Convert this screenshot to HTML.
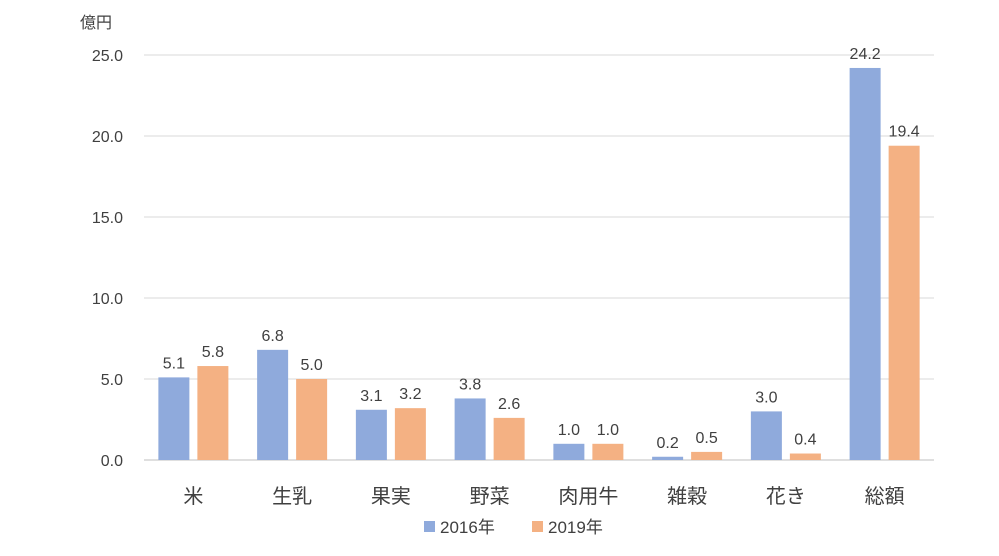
<!DOCTYPE html>
<html><head><meta charset="utf-8"><style>
body{margin:0;background:#fff;}
svg text{font-family:"Liberation Sans","Noto Sans CJK JP",sans-serif;fill:#404040;}
</style></head><body>
<svg width="999" height="551">
<g id="grid"></g><g id="bars"></g><g id="labels"></g>
<text x="80" y="28" font-size="16">億円</text>
<g>
<rect x="424" y="521" width="11" height="11" fill="#8faadc"/>
<text x="440" y="533" font-size="17">2016年</text>
<rect x="532" y="521" width="11" height="11" fill="#f4b183"/>
<text x="548" y="533" font-size="17">2019年</text>
</g>
</svg>
<script>
const categories=["米","生乳","果実","野菜","肉用牛","雑穀","花き","総額"];
const values2016=[5.1,6.8,3.1,3.8,1.0,0.2,3.0,24.2];
const values2019=[5.8,5.0,3.2,2.6,1.0,0.5,0.4,19.4];
const yTicks=[0,5,10,15,20,25];
const NS="http://www.w3.org/2000/svg";
const x0=144,x1=934,yBase=460,yTop=55,yMax=25;
const step=(x1-x0)/categories.length;
function y(v){return yBase-(v/yMax)*(yBase-yTop);}
function cx(i){return x0+step*(i+0.5);}
function mk(tag,attrs,parent){const e=document.createElementNS(NS,tag);for(const k in attrs)e.setAttribute(k,attrs[k]);document.getElementById(parent).appendChild(e);return e;}
yTicks.forEach(t=>{
 const l=mk("line",{x1:x0,x2:x1,y1:y(t),y2:y(t),stroke:t===0?"#bfbfbf":"#d9d9d9","stroke-width":1},"grid");
 
 
 const tx=mk("text",{x:123,y:y(t)+6,"font-size":16,"text-anchor":"end"},"grid");
 tx.textContent=t.toFixed(1);
 
 
});
categories.forEach((c,i)=>{
 const c0=cx(i);
 [[values2016[i],c0-35,"#8faadc","2016"],[values2019[i],c0+4,"#f4b183","2019"]].forEach(([v,bx,col,yr])=>{
  const r=mk("rect",{x:bx,y:y(v),width:31,height:yBase-y(v),fill:col},"bars");
  
  
  const t=mk("text",{x:bx+15.5,y:y(v)-9,"font-size":16,"text-anchor":"middle"},"labels");
  t.textContent=v.toFixed(1);
  
  
 });
 const xl=mk("text",{x:c0,y:503,"font-size":20,"text-anchor":"middle"},"labels");
 xl.textContent=c;
 
 
});
</script>
</body></html>
